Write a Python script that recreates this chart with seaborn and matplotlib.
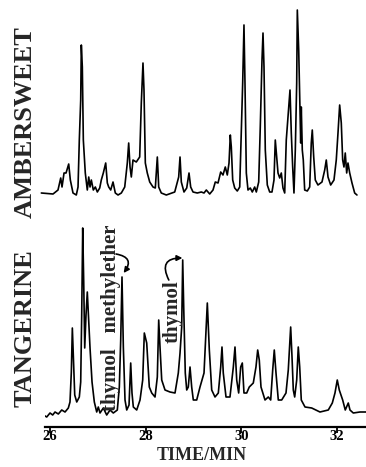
"""Gas chromatograms of Ambersweet and tangerine peel oils (26-32 min region)."""

import matplotlib
matplotlib.use("Agg")
import matplotlib.pyplot as plt
import seaborn as sns

# retention time (min) and detector response
amber_time = [
    25.818, 26.063, 26.167, 26.224, 26.251, 26.293, 26.335, 26.391, 26.425,
    26.481, 26.550, 26.586, 26.613, 26.642, 26.655, 26.676, 26.697, 26.738,
    26.780, 26.810, 26.837, 26.864, 26.906, 26.948, 26.990, 27.040, 27.073,
    27.115, 27.165, 27.199, 27.228, 27.270, 27.318, 27.366, 27.423, 27.492,
    27.563, 27.617, 27.646, 27.674, 27.701, 27.736, 27.805, 27.876, 27.910,
    27.945, 27.966, 27.994, 28.035, 28.086, 28.155, 28.203, 28.245, 28.274,
    28.328, 28.433, 28.609, 28.692, 28.720, 28.747, 28.803, 28.860, 28.908,
    28.943, 28.992, 29.081, 29.165, 29.222, 29.270, 29.341, 29.410, 29.458,
    29.515, 29.571, 29.619, 29.667, 29.709, 29.745, 29.772, 29.793, 29.822,
    29.864, 29.918, 29.969, 30.002, 30.031, 30.058, 30.079, 30.107, 30.142,
    30.190, 30.232, 30.282, 30.316, 30.366, 30.399, 30.435, 30.456, 30.477,
    30.504, 30.546, 30.596, 30.644, 30.686, 30.713, 30.743, 30.770, 30.806,
    30.839, 30.874, 30.910, 30.943, 30.993, 31.021, 31.048, 31.077, 31.104,
    31.132, 31.161, 31.174, 31.203, 31.230, 31.245, 31.257, 31.278, 31.299,
    31.328, 31.383, 31.433, 31.466, 31.487, 31.517, 31.550, 31.606, 31.690,
    31.747, 31.780, 31.816, 31.872, 31.941, 31.989, 32.025, 32.060, 32.094,
    32.123, 32.150, 32.177, 32.207, 32.234, 32.270, 32.318, 32.374, 32.422,
]
amber_signal = [
    0, -1, 3, 15, 6, 20, 20, 29, 13,
    0, -2, 6, 53, 93, 148, 126, 53, 20,
    3, 16, 6, 13, 3, 6, 1, 5, 13,
    20, 30, 10, 6, 3, 11, 0, -2, 0,
    6, 30, 50, 26, 16, 33, 31, 36, 90,
    130, 103, 30, 20, 11, 6, 5, 36, 6,
    0, -2, 1, 16, 36, 11, 1, 5, 20,
    6, 1, 0, 1, 0, 3, -1, 3, 11,
    10, 21, 18, 26, 18, 30, 58, 46, 13,
    5, 2, 6, 60, 110, 168, 110, 20, 3,
    5, 1, 6, 1, 11, 66, 133, 160, 126,
    43, 8, 1, 1, 13, 53, 36, 20, 15,
    20, 5, 0, 53, 86, 103, 60, 26, 0,
    43, 110, 183, 143, 83, 50, 86, 43, 33,
    3, 2, 6, 50, 63, 36, 13, 8, 11,
    23, 33, 16, 8, 13, 33, 60, 88, 70,
    33, 26, 40, 20, 30, 20, 10, 0, -2,
]

tang_time = [
    25.860, 25.931, 26.000, 26.056, 26.105, 26.174, 26.245, 26.314, 26.383,
    26.418, 26.446, 26.467, 26.487, 26.517, 26.559, 26.613, 26.642, 26.663,
    26.684, 26.705, 26.726, 26.753, 26.780, 26.801, 26.837, 26.879, 26.927,
    26.977, 27.010, 27.046, 27.115, 27.186, 27.255, 27.324, 27.408, 27.450,
    27.479, 27.506, 27.534, 27.569, 27.605, 27.653, 27.688, 27.715, 27.743,
    27.814, 27.883, 27.939, 27.973, 28.023, 28.077, 28.128, 28.197, 28.245,
    28.274, 28.301, 28.337, 28.406, 28.510, 28.615, 28.684, 28.720, 28.755,
    28.776, 28.797, 28.830, 28.860, 28.893, 28.929, 28.964, 28.998, 29.069,
    29.138, 29.222, 29.291, 29.333, 29.383, 29.452, 29.521, 29.571, 29.598,
    29.625, 29.682, 29.765, 29.835, 29.870, 29.906, 29.947, 29.989, 30.023,
    30.058, 30.115, 30.169, 30.253, 30.309, 30.345, 30.378, 30.414, 30.498,
    30.567, 30.617, 30.659, 30.692, 30.728, 30.776, 30.847, 30.937, 30.985,
    31.035, 31.063, 31.090, 31.119, 31.161, 31.194, 31.224, 31.257, 31.335,
    31.475, 31.648, 31.822, 31.906, 31.962, 32.010, 32.052, 32.123, 32.177,
    32.240, 32.276, 32.345, 32.485, 32.611,
]
tang_signal = [
    2, 0, 4, 2, 5, 3, 7, 5, 9,
    15, 45, 89, 62, 22, 15, 20, 35, 102,
    189, 135, 69, 102, 125, 105, 69, 35, 15,
    5, 10, 4, 9, 2, 7, 4, 7, 30,
    77, 140, 70, 17, 7, 12, 54, 24, 10,
    7, 17, 37, 84, 74, 30, 24, 20, 40,
    97, 70, 37, 27, 25, 24, 44, 64, 90,
    157, 110, 44, 27, 30, 50, 30, 17, 17,
    30, 44, 114, 67, 27, 20, 24, 50, 70,
    44, 20, 20, 50, 70, 37, 24, 50, 54,
    24, 24, 30, 34, 50, 67, 57, 30, 17,
    20, 17, 47, 67, 44, 17, 17, 24, 47,
    90, 60, 27, 20, 37, 70, 50, 17, 10,
    9, 5, 7, 14, 24, 37, 27, 17, 7,
    14, 7, 4, 5, 5,
]

time_ticks = [26, 28, 30, 32]
time_labels = ["26", "28", "30", "32"]

sns.set_style("white")
plt.rcParams["font.family"] = ["Liberation Serif", "DejaVu Serif"]
plt.rcParams["font.weight"] = "bold"

W, H = 366, 467
fig = plt.figure(figsize=(W / 100, H / 100), dpi=100)
ax_top = fig.add_axes([45 / W, 1 - 200 / H, 321 / W, 198 / H])
ax_bot = fig.add_axes([45 / W, 1 - 427 / H, 321 / W, 212 / H])

sns.lineplot(x=amber_time, y=amber_signal, ax=ax_top, color="black",
             linewidth=1.2, sort=False, estimator=None)
sns.lineplot(x=tang_time, y=tang_signal, ax=ax_bot, color="black",
             linewidth=1.2, sort=False, estimator=None)
for line in ax_top.get_lines():
    line.set_clip_on(False)

for ax in (ax_top, ax_bot):
    ax.set_xlim(25.895, 32.611)
    sns.despine(ax=ax, left=True, top=True, right=True, bottom=True)
    ax.set_yticks([])
    ax.set_ylabel("")
ax_top.set_ylim(-7, 191)
ax_top.set_xticks([])
ax_bot.set_ylim(-10, 202)

ax_bot.spines["bottom"].set_visible(True)
ax_bot.spines["bottom"].set_linewidth(1.6)
ax_bot.spines["bottom"].set_color("black")
ax_bot.set_xticks(time_ticks)
ax_bot.set_xticklabels(time_labels, fontsize=10.5, fontweight="bold")
ax_bot.tick_params(axis="x", direction="out", length=4, width=1.3,
                   pad=-2, bottom=True, colors="black")

fig.text(202 / W, 1 - 455 / H, "TIME/MIN", ha="center", va="center",
         fontsize=13, fontweight="bold")
fig.text(25 / W, 1 - 122 / H, "AMBERSWEET", rotation=90, ha="center",
         va="center", fontsize=19, fontweight="bold")
fig.text(25 / W, 1 - 328 / H, "TANGERINE", rotation=90, ha="center",
         va="center", fontsize=19, fontweight="bold")

# peak labels with curved arrows
ax_bot.text(27.276, 99.5, "thymol   methylether", rotation=90, ha="center",
            va="center", fontsize=15, fontweight="bold")
ax_bot.text(28.573, 105, "thymol", rotation=90, ha="center", va="center",
            fontsize=15, fontweight="bold")
arrow = dict(arrowstyle="-|>", color="black", lw=1.2, mutation_scale=8,
             shrinkA=0, shrinkB=0)
ax_bot.annotate("", xy=(27.540, 144), xytext=(27.381, 163),
                arrowprops=dict(arrow, connectionstyle="arc3,rad=-0.8"))
ax_bot.annotate("", xy=(28.770, 159), xytext=(28.485, 137),
                arrowprops=dict(arrow, connectionstyle="arc3,rad=-0.8"))

fig.savefig("out.png", dpi=100)
